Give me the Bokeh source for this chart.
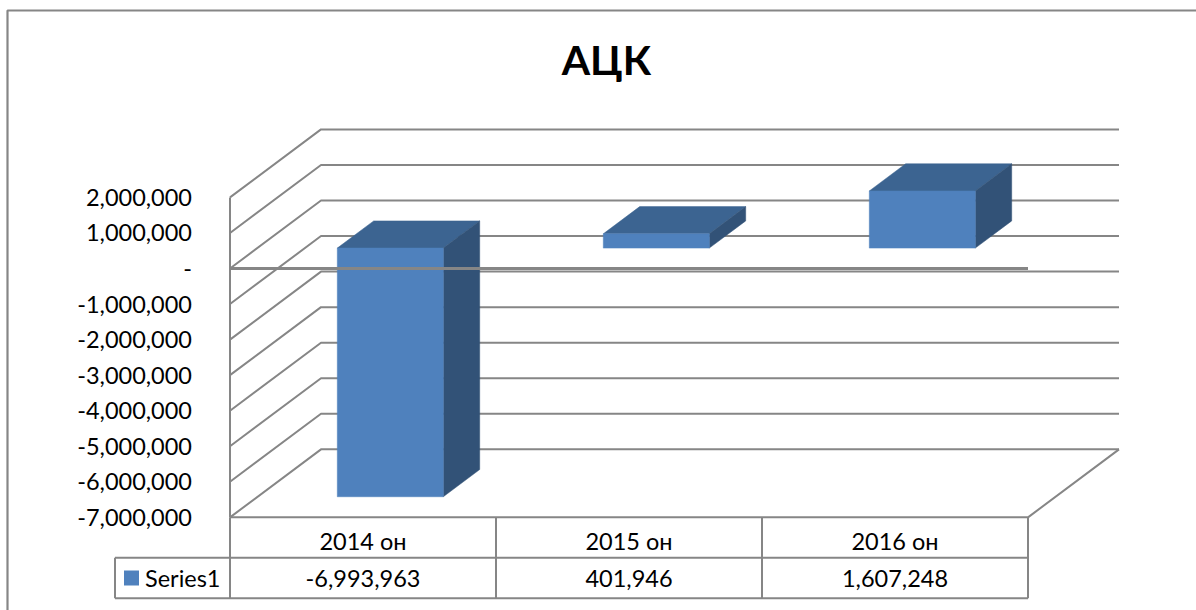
from bokeh.plotting import figure
from bokeh.embed import file_html
from bokeh.resources import INLINE
from bokeh.core.properties import value

TITLE = "АЦК"
categories = ["2014 он", "2015 он", "2016 он"]
series_name = "Series1"
series_values = [-6993963, 401946, 1607248]
value_labels = ["-6,993,963", "401,946", "1,607,248"]
tick_values = [2000000, 1000000, 0, -1000000, -2000000, -3000000, -4000000, -5000000, -6000000, -7000000]
tick_labels = ["2,000,000", "1,000,000", "-", "-1,000,000", "-2,000,000", "-3,000,000", "-4,000,000", "-5,000,000", "-6,000,000", "-7,000,000"]

W, H = 1196, 610
CAT_PX = 266.0       # px per category
VAL_PX = 35.55 / 1e6 # px per value unit
x0_px, zero_px = 229.5, 268.0
x_range = (-x0_px / CAT_PX, (W - x0_px) / CAT_PX)
y_range = ((zero_px - H) / VAL_PX, zero_px / VAL_PX)

# oblique projection of the chart depth (0 front, 1 back wall)
DX = 91.0 / CAT_PX
DY = 68.0 / VAL_PX
def px(c, d=0.0):
    return c + d * DX
def py(v, d=0.0):
    return v + d * DY
def sx(pixels):
    return pixels / CAT_PX
def sy(pixels):
    return pixels / VAL_PX

FONT = value("Lato")
FS = "23.5px"
GRID = "#868686"
vmin, vmax = tick_values[-1], tick_values[0]
n = len(categories)

p = figure(width=W, height=H, output_backend="svg", toolbar_location=None,
           x_range=x_range, y_range=y_range, min_border=0,
           x_axis_type="linear", y_axis_type="linear")
p.axis.visible = False
p.xgrid.visible = False
p.ygrid.visible = False
p.outline_line_color = None
p.background_fill_color = "white"

# chart border: left and top only reach the picture
border_x = x_range[0] + sx(7)
border_y = y_range[1] - sy(10)
p.line(x=[border_x, border_x, x_range[1]], y=[y_range[0], border_y, border_y], line_color=GRID, line_width=2.2)

# gridlines on side and back walls
for v in tick_values:
    p.line(x=[px(0), px(0, 1), px(n, 1)], y=[py(v), py(v, 1), py(v, 1)], line_color=GRID, line_width=2)
# floor
p.line(x=[px(0), px(n), px(n, 1)], y=[py(vmin), py(vmin), py(vmin, 1)], line_color=GRID, line_width=2)
# left wall edge
p.line(x=[px(0), px(0)], y=[py(vmax), py(vmin)], line_color=GRID, line_width=2)

# bars
FRONT, TOP, SIDE = "#4F81BD", "#3C6491", "#325277"
d0, d1 = 0.3, 0.7
bw = sx(106.0)
for i, v in enumerate(series_values):
    xl = i + 0.5 - bw / 2
    xr = i + 0.5 + bw / 2
    hi, lo = max(v, 0), min(v, 0)
    p.patch(x=[px(xl, d0), px(xr, d0), px(xr, d1), px(xl, d1)],
            y=[py(hi, d0), py(hi, d0), py(hi, d1), py(hi, d1)], fill_color=TOP, line_color=TOP, line_width=0.5)
    p.patch(x=[px(xr, d0), px(xr, d1), px(xr, d1), px(xr, d0)],
            y=[py(hi, d0), py(hi, d1), py(lo, d1), py(lo, d0)], fill_color=SIDE, line_color=SIDE, line_width=0.5)
    p.patch(x=[px(xl, d0), px(xr, d0), px(xr, d0), px(xl, d0)],
            y=[py(hi, d0), py(hi, d0), py(lo, d0), py(lo, d0)], fill_color=FRONT, line_color=FRONT, line_width=0.5)

# zero line in front of bars
p.line(x=[px(0), px(n)], y=[0, 0], line_color=GRID, line_width=3)

# data table
ROW = sy(40.5)
LEGEND_W = sx(115.0)
for k in range(n + 1):
    p.line(x=[k, k], y=[vmin, vmin - 2 * ROW], line_color=GRID, line_width=2)
for r in (1, 2):
    p.line(x=[-LEGEND_W, n], y=[vmin - r * ROW, vmin - r * ROW], line_color=GRID, line_width=2)
p.line(x=[-LEGEND_W, -LEGEND_W], y=[vmin - ROW, vmin - 2 * ROW], line_color=GRID, line_width=2)

centers = [i + 0.5 for i in range(n)]
p.text(x=centers, y=[vmin - 0.5 * ROW - sy(3.5)] * n, text=categories, text_font=FONT, text_font_size=FS,
       text_align="center", text_baseline="middle", text_color="black")
p.text(x=centers, y=[vmin - 1.5 * ROW] * n, text=value_labels, text_font=FONT, text_font_size=FS,
       text_align="center", text_baseline="middle", text_color="black")
# legend key and name
p.rect(x=[-LEGEND_W + sx(16.5)], y=[vmin - 1.5 * ROW], width=sx(15), height=sy(15),
       fill_color=FRONT, line_color=None)
p.text(x=[-LEGEND_W + sx(30)], y=[vmin - 1.5 * ROW], text=[series_name], text_font=FONT, text_font_size=FS,
       text_align="left", text_baseline="middle", text_color="black")

# value axis labels
p.text(x=[sx(-38)] * len(tick_values), y=tick_values, text=tick_labels, text_font=FONT, text_font_size=FS,
       text_align="right", text_baseline="middle", text_color="black")

# title
p.text(x=[sx(606 - 229.5)], y=[sy(268 - 59)], text=[TITLE], text_font=FONT, text_font_size="41px",
       text_font_style="bold", text_align="center", text_baseline="middle", text_color="black")

open("out.html", "w").write(file_html(p, INLINE))
